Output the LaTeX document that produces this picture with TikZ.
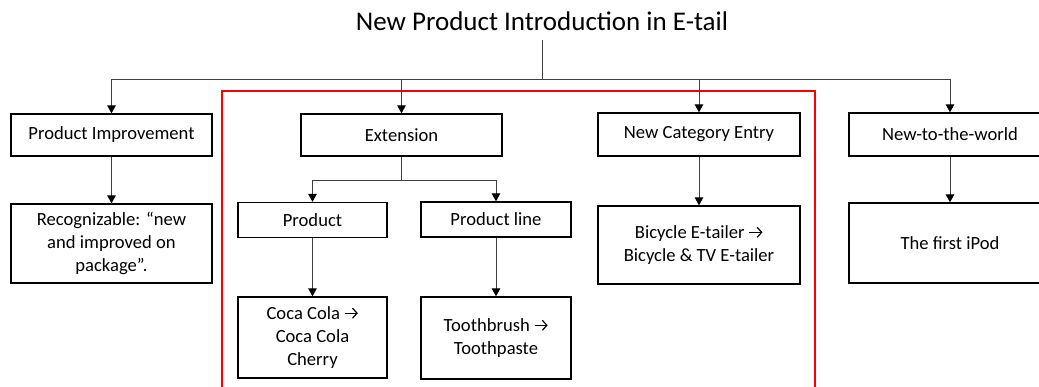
\documentclass[tikz,border=0pt]{standalone}
\usepackage{fontspec}
\setmainfont{Carlito}
\usetikzlibrary{arrows.meta}

% inline arrow between two example names
\newcommand{\rarr}{\tikz[baseline=0pt, x=1pt, y=1pt]
  \draw[line width=1.2pt, black, -{Straight Barb[length=4.5pt,width=10pt,line width=1.2pt]}]
    (0,6) -- (13,6);}

\tikzset{
  box/.style={draw=black, line width=1.3pt, fill=white, align=center,
    inner sep=0pt, font=\fontsize{18.6}{23.3}\selectfont},
  conn/.style={draw=black!75, line width=0.9pt},
  arr/.style={conn, -{Triangle[width=8.5pt,length=8pt,fill=black,color=black]}},
  frame/.style={draw=red, line width=1.3pt},
}

\begin{document}
\begin{tikzpicture}[x=1pt,y=-1pt]
  \useasboundingbox[fill=white] (0,0) rectangle (1039,386);

  % grouping frame around the extension / new category branches
  \draw[frame] (222,395) |- (815,91) -- (815,395);

  % title and top-level branch point
  \node[font=\fontsize{27}{31}\selectfont, anchor=base, inner sep=0pt,
        outer ysep=9pt] (title) at (542,30.5) {New Product Introduction in E-tail};
  \coordinate (hub) at (542,79);

  % first level
  \node[box, minimum width=201pt, minimum height=42pt] (pi)  at (111.5,135) {Product Improvement};
  \node[box, minimum width=201pt, minimum height=42pt] (ext) at (401.5,135) {Extension};
  \node[box, minimum width=202pt, minimum height=43pt] (nce) at (699,134.5) {New Category Entry};
  \node[box, minimum width=202pt, minimum height=43pt] (nw)  at (950,134.5) {New-to-the-world};

  % extension sub-branches
  \coordinate (efork) at (401.5,180);
  \node[box, minimum width=149pt, minimum height=35pt] (prod)  at (312.5,220) {Product};
  \node[box, minimum width=150pt, minimum height=35pt] (pline) at (496,219.5) {Product line};

  % examples
  \node[box, minimum width=201pt, minimum height=79pt] (rec)   at (111.5,243.5)
    {Recognizable: “new\\and improved on\\package”.};
  \node[box, minimum width=149pt, minimum height=81pt] (coca)  at (312.5,337.5)
    {Coca Cola \rarr\\Coca Cola\\Cherry};
  \node[box, minimum width=150pt, minimum height=82pt] (tooth) at (496,338)
    {Toothbrush \rarr\\Toothpaste};
  \node[box, minimum width=202pt, minimum height=78pt] (bike)  at (699,245)
    {Bicycle E-tailer \rarr\\Bicycle \& TV E-tailer};
  \node[box, minimum width=202pt, minimum height=80pt] (ipod)  at (950,243)
    {The first iPod};

  % connectors
  \draw[conn] (title.south) -- (hub);
  \draw[arr] (hub) -| (pi.north);
  \draw[arr] (hub) -| (ext.north);
  \draw[arr] (hub) -| (nce.north);
  \draw[arr] (hub) -| (nw.north);

  \draw[arr] (pi.south) -- (rec.north);
  \draw[conn] (ext.south) -- (efork);
  \draw[arr] (efork) -| (prod.north);
  \draw[arr] (efork) -| (pline.north);
  \draw[arr] (prod.south) -- (coca.north);
  \draw[arr] (pline.south) -- (tooth.north);
  \draw[arr] (nce.south) -- (bike.north);
  \draw[arr] (nw.south) -- (ipod.north);
\end{tikzpicture}
\end{document}
